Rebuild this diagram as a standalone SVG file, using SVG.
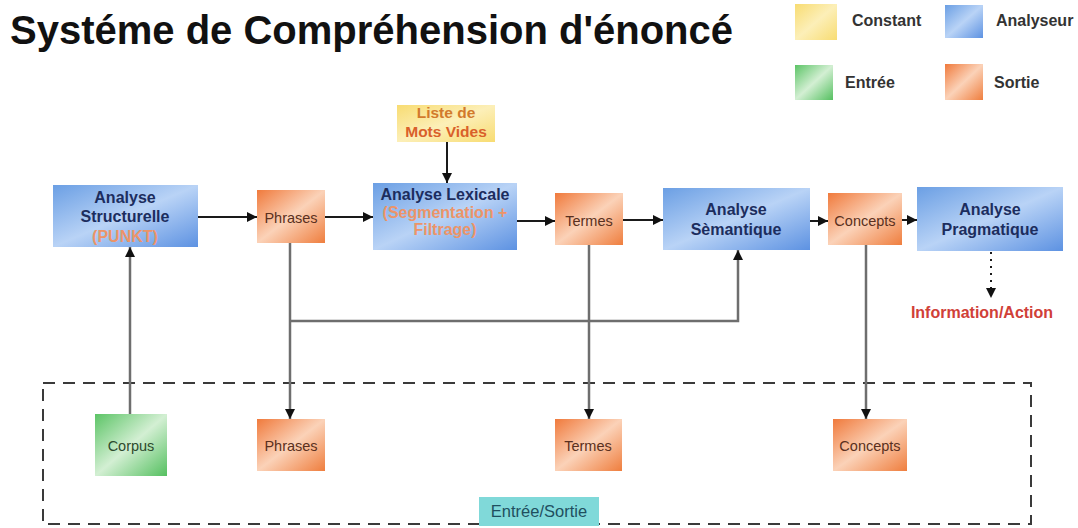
<svg xmlns="http://www.w3.org/2000/svg" width="1078" height="528" viewBox="0 0 1078 528">
  <defs>
    <linearGradient id="gBlue" x1="0" y1="0" x2="1" y2="1">
      <stop offset="0" stop-color="#6b9fe4"/>
      <stop offset="0.5" stop-color="#b9d3f6"/>
      <stop offset="1" stop-color="#5d92e2"/>
    </linearGradient>
    <linearGradient id="gOrange" x1="0" y1="0" x2="1" y2="1">
      <stop offset="0" stop-color="#f07a3c"/>
      <stop offset="0.5" stop-color="#fbd2b8"/>
      <stop offset="1" stop-color="#ef7e3e"/>
    </linearGradient>
    <linearGradient id="gGreen" x1="0" y1="0" x2="1" y2="1">
      <stop offset="0" stop-color="#5cc466"/>
      <stop offset="0.5" stop-color="#d3efd3"/>
      <stop offset="1" stop-color="#55c060"/>
    </linearGradient>
    <linearGradient id="gYellow" x1="0" y1="0" x2="1" y2="1">
      <stop offset="0" stop-color="#f8dc72"/>
      <stop offset="0.5" stop-color="#fcefb8"/>
      <stop offset="1" stop-color="#f8dc72"/>
    </linearGradient>
    <marker id="arrow" viewBox="0 0 10 10" refX="10" refY="5" markerWidth="10" markerHeight="10" markerUnits="userSpaceOnUse" orient="auto">
      <path d="M0,0 L10,5 L0,10 z" fill="#111"/>
    </marker>
    <style>
      text { font-family: "Liberation Sans", Arial, sans-serif; }
      .title { font-size: 40px; font-weight: bold; fill: #111; }
      .legend { font-size: 16px; font-weight: bold; fill: #333; }
      .blue { fill: url(#gBlue); }
      .orange { fill: url(#gOrange); }
      .green { fill: url(#gGreen); }
      .yellow { fill: url(#gYellow); }
      .an { font-size: 16px; font-weight: bold; fill: #1c2d5e; text-anchor: middle; }
      .sub { font-size: 16px; font-weight: bold; fill: #ec9468; text-anchor: middle; }
      .out { font-size: 14.5px; fill: #5a3020; text-anchor: middle; }
      .inp { font-size: 14.5px; fill: #2d4a2d; text-anchor: middle; }
      .const { font-size: 15.5px; font-weight: bold; fill: #d9602a; text-anchor: middle; }
      .const-top { fill: #d27a2c; }
      .info { font-size: 16px; font-weight: bold; fill: #d04038; text-anchor: middle; }
      .io { font-size: 16.5px; fill: #1f4f5f; text-anchor: middle; }
      .flow { stroke: #1a1a1a; stroke-width: 2; fill: none; }
      .drop { stroke: #6e6e6e; stroke-width: 2.5; fill: none; }
    </style>
  </defs>

  <rect width="1078" height="528" fill="#ffffff"/>

  <!-- title -->
  <text class="title" x="10" y="44">Systéme de Compréhension d'énoncé</text>

  <!-- legend -->
  <g id="legend">
    <rect class="yellow" x="795" y="4" width="42" height="36"/>
    <text class="legend" x="852" y="26">Constant</text>
    <rect class="blue" x="945" y="5" width="38" height="33"/>
    <text class="legend" x="996" y="26">Analyseur</text>
    <rect class="green" x="795" y="65" width="38" height="35"/>
    <text class="legend" x="845" y="88">Entrée</text>
    <rect class="orange" x="945" y="64" width="38" height="36"/>
    <text class="legend" x="994" y="88">Sortie</text>
  </g>

  <!-- input/output area -->
  <g id="io-area">
    <rect x="43" y="383" width="988" height="141" fill="none" stroke="#3a3a3a" stroke-width="2" stroke-dasharray="12 8"/>
    <rect x="479" y="497" width="120" height="29" fill="#80d9d9"/>
    <text class="io" x="539" y="517">Entrée/Sortie</text>
  </g>

  <!-- connectors -->
  <g id="connectors">
    <line class="flow" x1="198" y1="217" x2="257" y2="217" marker-end="url(#arrow)"/>
    <line class="flow" x1="325" y1="217" x2="373" y2="217" marker-end="url(#arrow)"/>
    <line class="flow" x1="447" y1="142" x2="447" y2="183" marker-end="url(#arrow)"/>
    <line class="flow" x1="517" y1="221" x2="555" y2="221" marker-end="url(#arrow)"/>
    <line class="flow" x1="623" y1="220" x2="663" y2="220" marker-end="url(#arrow)"/>
    <line class="flow" x1="810" y1="221" x2="828" y2="221" marker-end="url(#arrow)"/>
    <line class="flow" x1="902" y1="220" x2="917" y2="220" marker-end="url(#arrow)"/>
    <line class="flow" x1="991" y1="252" x2="991" y2="298" stroke-dasharray="2 5" marker-end="url(#arrow)"/>
    <line class="drop" x1="130" y1="414" x2="130" y2="247" marker-end="url(#arrow)"/>
    <line class="drop" x1="290" y1="243" x2="290" y2="419" marker-end="url(#arrow)"/>
    <polyline class="drop" points="290,321 738,321 738,250" marker-end="url(#arrow)"/>
    <line class="drop" x1="589" y1="245" x2="589" y2="419" marker-end="url(#arrow)"/>
    <line class="drop" x1="866" y1="245" x2="866" y2="419" marker-end="url(#arrow)"/>
  </g>

  <!-- analysers -->
  <g id="analyse-structurelle">
    <rect class="blue" x="53" y="185" width="145" height="62"/>
    <text class="an" x="125" y="203">Analyse</text>
    <text class="an" x="125" y="222">Structurelle</text>
    <text class="sub" x="125" y="242">(PUNKT)</text>
  </g>
  <g id="analyse-lexicale">
    <rect class="blue" x="373" y="183" width="144" height="67"/>
    <text class="an" x="445" y="200">Analyse Lexicale</text>
    <text class="sub" x="445" y="218">(Segmentation +</text>
    <text class="sub" x="445" y="235">Filtrage)</text>
  </g>
  <g id="analyse-semantique">
    <rect class="blue" x="663" y="188" width="147" height="62"/>
    <text class="an" x="736" y="215">Analyse</text>
    <text class="an" x="736" y="235">Sèmantique</text>
  </g>
  <g id="analyse-pragmatique">
    <rect class="blue" x="917" y="187" width="146" height="64"/>
    <text class="an" x="990" y="215">Analyse</text>
    <text class="an" x="990" y="235">Pragmatique</text>
  </g>

  <!-- constant -->
  <g id="mots-vides">
    <rect class="yellow" x="397" y="105" width="98" height="37"/>
    <text class="const const-top" x="446" y="118">Liste de</text>
    <text class="const" x="446" y="137">Mots Vides</text>
  </g>

  <!-- outputs, top row -->
  <g id="phrases">
    <rect class="orange" x="257" y="190" width="68" height="53"/>
    <text class="out" x="291" y="223">Phrases</text>
  </g>
  <g id="termes">
    <rect class="orange" x="555" y="193" width="68" height="52"/>
    <text class="out" x="589" y="226">Termes</text>
  </g>
  <g id="concepts">
    <rect class="orange" x="828" y="193" width="74" height="52"/>
    <text class="out" x="865" y="226">Concepts</text>
  </g>

  <g id="information-action">
    <text class="info" x="982" y="318">Information/Action</text>
  </g>

  <!-- stored data -->
  <g id="corpus">
    <rect class="green" x="95" y="414" width="72" height="62"/>
    <text class="inp" x="131" y="451">Corpus</text>
  </g>
  <g id="phrases-store">
    <rect class="orange" x="257" y="419" width="68" height="52"/>
    <text class="out" x="291" y="451">Phrases</text>
  </g>
  <g id="termes-store">
    <rect class="orange" x="555" y="419" width="67" height="52"/>
    <text class="out" x="588" y="451">Termes</text>
  </g>
  <g id="concepts-store">
    <rect class="orange" x="833" y="419" width="74" height="52"/>
    <text class="out" x="870" y="451">Concepts</text>
  </g>
</svg>
